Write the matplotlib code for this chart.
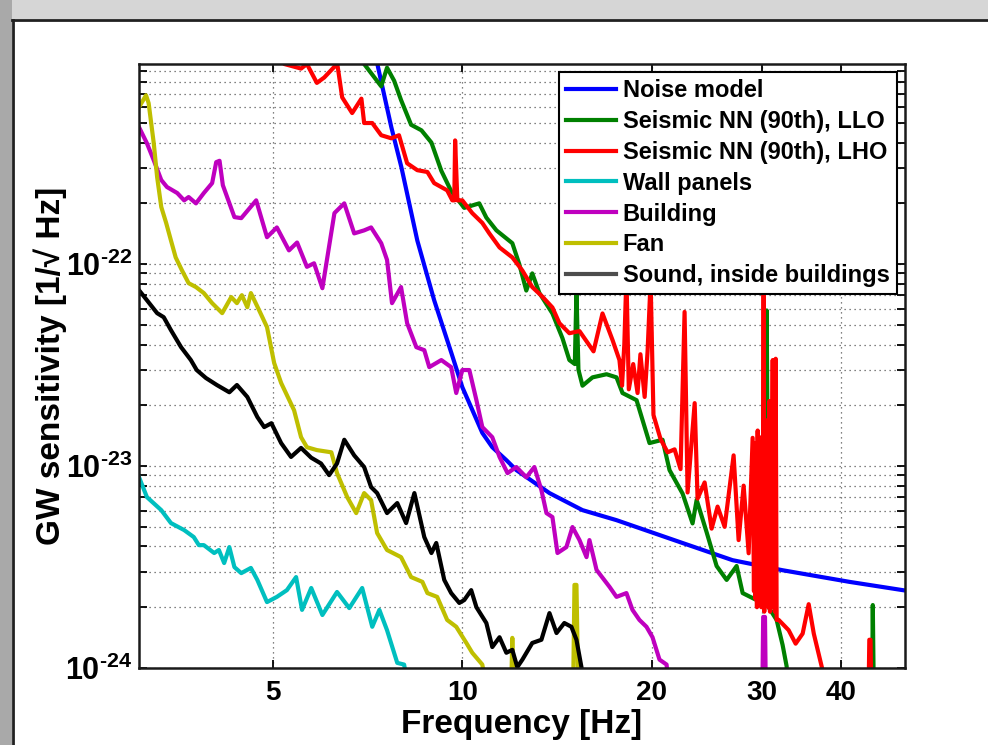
import numpy as np
import matplotlib
matplotlib.use("Agg")
import matplotlib.pyplot as plt
from matplotlib.patches import Rectangle
from matplotlib.lines import Line2D
from matplotlib.ticker import LogLocator, FixedLocator, FixedFormatter, NullLocator

plt.rcParams['font.family'] = ['Liberation Sans', 'DejaVu Sans']
plt.rcParams['font.weight'] = 'bold'
plt.rcParams['mathtext.fontset'] = 'custom'
plt.rcParams['mathtext.rm'] = 'Liberation Sans:bold'
plt.rcParams['mathtext.it'] = 'Liberation Sans:bold'
plt.rcParams['mathtext.bf'] = 'Liberation Sans:bold'
plt.rcParams['mathtext.default'] = 'rm'

# ---- data (frequency in Hz, sensitivity in 1/sqrt(Hz)) ----
f_noise = [7.1, 7.32, 7.71, 8.0, 8.48, 9.02, 9.61, 10.0, 10.26, 10.76, 11.16, 11.75,
           12.19, 13.76, 15.53, 17.58, 22.4, 26.9, 32.3, 41.3, 50.6]
h_noise = [1.5e-21, 9.9e-22, 4.77e-22, 3.02e-22, 1.31e-22, 6.63e-23, 3.62e-23, 2.46e-23,
           2.05e-23, 1.46e-23, 1.24e-23, 1.07e-23, 9.55e-24, 7.35e-24, 6.05e-24, 5.4e-24,
           4.16e-24, 3.42e-24, 3.05e-24, 2.67e-24, 2.42e-24]

f_llo = [6.9, 6.98, 7.43, 7.59, 7.79, 7.99, 8.29, 8.61, 8.93, 9.26, 9.60, 10.07, 10.64,
         10.92, 11.33, 12.01, 12.32, 12.64, 12.92, 13.26, 13.91, 14.43, 14.80, 15.1, 15.19,
         15.3, 15.53, 16.11, 16.96, 17.59, 17.98, 18.93, 19.35, 19.85, 20.82, 21.36, 22.41,
         23.24, 23.59, 24.47, 25.38, 26.33, 27.31, 27.92, 29.38, 30.3, 30.49, 30.7, 31.62,
         32.32, 32.8, 33.2, 44.8, 44.97, 45.2]
h_llo = [1.3e-21, 9.8e-22, 7.6e-22, 9.4e-22, 8.1e-22, 6.5e-22, 4.9e-22, 4.6e-22, 4.0e-22,
         2.9e-22, 2.3e-22, 1.9e-22, 2.0e-22, 1.7e-22, 1.47e-22, 1.27e-22, 1.0e-22, 7.4e-23,
         9.0e-23, 7.2e-23, 5.7e-23, 4.3e-23, 3.35e-23, 3.2e-23, 7.4e-23, 3.0e-23, 2.5e-23,
         2.75e-23, 2.85e-23, 2.75e-23, 2.3e-23, 2.12e-23, 1.69e-23, 1.3e-23, 1.35e-23,
         9.55e-24, 7.3e-24, 5.2e-24, 6.8e-24, 4.7e-24, 3.2e-24, 2.73e-24, 3.2e-24, 2.35e-24,
         2.17e-24, 2.05e-24, 5.9e-23, 2.0e-24, 1.73e-24, 1.3e-24, 1.02e-24, 5e-25, 5e-25,
         2.05e-24, 5e-25]

f_lho = [5.1, 5.21, 5.54, 5.66, 5.87, 6.03, 6.26, 6.32, 6.44, 6.68, 6.91, 6.98, 7.19, 7.43,
         7.71, 7.93, 8.17, 8.48, 8.80, 9.02, 9.46, 9.64, 9.71, 9.74, 9.82, 10.0, 10.37, 10.76,
         11.04, 11.46, 12.01, 12.46, 12.92, 13.41, 13.91, 14.27, 14.80, 15.36, 16.17, 16.71,
         17.34, 17.78, 17.95, 18.1, 18.24, 18.4, 18.7, 19.0, 19.2, 19.5, 19.71, 19.93, 20.14,
         20.67, 21.21, 21.76, 22.24, 22.57, 22.82, 23.42, 23.67, 24.29, 24.92, 25.47, 26.14,
         27.01, 27.51, 28.02, 28.54, 28.96,
         29.1, 29.18, 29.26, 29.34, 29.42, 29.5, 29.58, 29.66, 29.74, 29.82, 29.9, 29.98,
         30.06, 30.15, 30.22, 30.3, 30.38, 30.46, 30.54, 30.62, 30.7, 30.78, 30.86, 30.94,
         31.02, 31.1, 31.17, 31.25, 31.33, 31.42, 31.51,
         31.62, 31.86, 33.04, 33.9, 34.78, 35.56, 36.23, 37.43, 38.0, 44.2,
         44.4, 44.6, 44.8]
h_lho = [1.3e-21, 9.8e-22, 9.3e-22, 9.8e-22, 7.9e-22, 8.4e-22, 9.5e-22, 1.0e-21, 6.7e-22,
         5.6e-22, 6.6e-22, 5.0e-22, 5.0e-22, 4.35e-22, 4.2e-22, 4.35e-22, 3.16e-22, 2.92e-22,
         2.86e-22, 2.52e-22, 2.32e-22, 2.07e-22, 2.07e-22, 4.1e-22, 2.07e-22, 2.07e-22,
         1.79e-22, 1.6e-22, 1.42e-22, 1.21e-22, 1.08e-22, 9.3e-23, 7.7e-23, 6.9e-23, 6.1e-23,
         5.1e-23, 4.55e-23, 4.66e-23, 3.7e-23, 5.7e-23, 4.2e-23, 3.35e-23, 2.5e-23, 4.0e-23,
         8.8e-23, 2.4e-23, 3.2e-23, 2.3e-23, 3.58e-23, 2.2e-23, 3.7e-23, 8.3e-23, 1.79e-23,
         1.36e-23, 1.17e-23, 1.21e-23, 9.66e-24, 5.8e-23, 7.4e-24, 2.05e-23, 6.9e-24, 8.3e-24,
         4.9e-24, 6.3e-24, 5.0e-24, 1.13e-23, 4.3e-24, 8.0e-24, 3.7e-24, 1.38e-23,
         2.4e-24, 1.3e-23, 2.2e-24, 1.0e-23, 2.0e-24, 1.5e-23, 2.4e-24, 9.0e-24, 2.1e-24,
         1.2e-23, 2.0e-24, 1.4e-23, 2.2e-24, 8.0e-23, 1.9e-24, 1.7e-23, 2.1e-24, 1.35e-23,
         2.2e-24, 1.6e-23, 2.0e-24, 2.1e-23, 1.9e-24, 1.35e-23, 2.3e-24, 1.1e-23, 3.35e-23,
         2.0e-24, 1.2e-23, 1.9e-24, 3.4e-23,
         1.73e-24, 1.73e-24, 1.54e-24, 1.32e-24, 1.48e-24, 2.07e-24, 1.48e-24, 9.7e-25, 5e-25,
         5e-25, 1.38e-24, 1.38e-24, 5e-25]

f_wall = [3.06, 3.15, 3.32, 3.44, 3.61, 3.74, 3.81, 3.88, 4.03, 4.10, 4.18, 4.26, 4.34, 4.45,
          4.61, 4.72, 4.89, 5.07, 5.26, 5.44, 5.56, 5.75, 5.99, 6.32, 6.61, 6.93, 7.19, 7.38,
          7.59, 7.88, 8.08, 8.2]
h_wall = [8.82e-24, 7.02e-24, 6.05e-24, 5.22e-24, 4.82e-24, 4.45e-24, 4.06e-24, 4.06e-24,
          3.71e-24, 3.84e-24, 3.31e-24, 3.97e-24, 3.16e-24, 2.95e-24, 3.13e-24, 2.73e-24,
          2.12e-24, 2.25e-24, 2.43e-24, 2.82e-24, 1.94e-24, 2.49e-24, 1.83e-24, 2.38e-24,
          1.98e-24, 2.49e-24, 1.60e-24, 1.94e-24, 1.54e-24, 1.06e-24, 1.04e-24, 8e-25]

f_build = [3.06, 3.15, 3.23, 3.32, 3.39, 3.52, 3.61, 3.67, 3.77, 3.88, 4.0, 4.06, 4.11, 4.16,
           4.34, 4.45, 4.70, 4.89, 5.07, 5.30, 5.46, 5.66, 5.81, 5.99, 6.26, 6.49, 6.73, 6.98,
           7.16, 7.43, 7.59, 7.73, 7.99, 8.17, 8.45, 8.70, 8.86, 9.26, 9.60, 9.78, 10.0, 10.26,
           10.53, 10.76, 11.16, 11.46, 11.80, 12.19, 12.64, 13.02, 13.36, 13.61, 13.91, 14.17,
           14.64, 14.97, 15.36, 15.76, 15.93, 16.35, 17.15, 17.59, 18.24, 18.65, 19.13, 19.63,
           20.07, 20.59, 21.13, 21.4, 30.0, 30.1, 30.3, 30.4]
h_build = [4.77e-22, 3.97e-22, 3.27e-22, 2.61e-22, 2.41e-22, 2.25e-22, 2.07e-22, 2.15e-22,
           2.0e-22, 2.25e-22, 2.52e-22, 3.2e-22, 3.25e-22, 2.46e-22, 1.71e-22, 1.69e-22,
           2.07e-22, 1.36e-22, 1.52e-22, 1.17e-22, 1.28e-22, 9.7e-23, 1.01e-22, 7.6e-23,
           1.79e-22, 2.0e-22, 1.42e-22, 1.47e-22, 1.52e-22, 1.27e-22, 1.05e-22, 6.41e-23,
           7.7e-23, 5.1e-23, 3.88e-23, 3.75e-23, 3.09e-23, 3.35e-23, 3.09e-23, 2.30e-23,
           2.99e-23, 2.99e-23, 2.12e-23, 1.56e-23, 1.39e-23, 1.11e-23, 9.23e-24, 9.89e-24,
           8.8e-24, 9.89e-24, 7.6e-24, 5.85e-24, 5.59e-24, 3.71e-24, 3.97e-24, 4.99e-24,
           4.30e-24, 3.54e-24, 4.30e-24, 3.06e-24, 2.52e-24, 2.25e-24, 2.35e-24, 1.94e-24,
           1.73e-24, 1.6e-24, 1.42e-24, 1.10e-24, 1.04e-24, 7e-25, 7e-25, 1.79e-24, 1.79e-24,
           7e-25]

f_fan = [3.06, 3.14, 3.17, 3.23, 3.27, 3.32, 3.38, 3.44, 3.50, 3.58, 3.67, 3.77, 3.88, 4.0,
         4.15, 4.29, 4.38, 4.46, 4.55, 4.61, 4.75, 4.89, 5.02, 5.15, 5.40, 5.54, 5.66, 5.87,
         6.19, 6.32, 6.56, 6.78, 6.98, 7.16, 7.32, 7.59, 7.99, 8.29, 8.64, 8.80, 9.12, 9.46,
         9.78, 10.15, 10.37, 10.76, 11.0, 11.95, 12.01, 12.07, 15.0, 15.08, 15.19, 15.3]
h_fan = [5.99e-22, 6.86e-22, 6.27e-22, 3.97e-22, 2.70e-22, 1.92e-22, 1.60e-22, 1.31e-22,
         1.08e-22, 9.34e-23, 8.05e-23, 7.7e-23, 7.19e-23, 6.41e-23, 5.72e-23, 6.87e-23,
         6.41e-23, 7.02e-23, 6.12e-23, 7.19e-23, 5.92e-23, 4.88e-23, 3.24e-23, 2.58e-23,
         1.89e-23, 1.39e-23, 1.24e-23, 1.20e-23, 1.17e-23, 9.23e-24, 7.02e-24, 5.85e-24,
         7.35e-24, 6.78e-24, 4.66e-24, 3.84e-24, 3.54e-24, 2.82e-24, 2.67e-24, 2.35e-24,
         2.25e-24, 1.73e-24, 1.60e-24, 1.33e-24, 1.19e-24, 1.04e-24, 7e-25, 7e-25, 1.41e-24,
         7e-25, 7e-25, 2.58e-24, 2.58e-24, 7e-25]

f_sound = [3.06, 3.15, 3.27, 3.35, 3.44, 3.57, 3.70, 3.78, 3.91, 4.07, 4.26, 4.38, 4.55, 4.72,
           4.84, 4.97, 5.15, 5.34, 5.54, 5.75, 5.96, 6.14, 6.32, 6.49, 6.73, 6.98, 7.16, 7.32,
           7.59, 7.88, 8.14, 8.39, 8.70, 8.93, 9.09, 9.36, 9.60, 9.89, 10.07, 10.33, 10.53,
           10.92, 11.16, 11.46, 11.75, 12.01, 12.23, 12.46, 12.92, 13.36, 13.76, 14.12, 14.53,
           14.91, 15.19, 15.47, 15.7]
h_sound = [7.43e-23, 6.63e-23, 5.72e-23, 5.46e-23, 4.71e-23, 3.88e-23, 3.35e-23, 2.99e-23,
           2.73e-23, 2.52e-23, 2.32e-23, 2.52e-23, 2.20e-23, 1.75e-23, 1.56e-23, 1.63e-23,
           1.30e-23, 1.11e-23, 1.23e-23, 1.10e-23, 1.03e-23, 9.02e-24, 1.03e-23, 1.35e-23,
           1.13e-23, 9.89e-24, 7.87e-24, 7.35e-24, 5.85e-24, 6.56e-24, 5.22e-24, 7.35e-24,
           4.45e-24, 3.71e-24, 4.16e-24, 2.73e-24, 2.35e-24, 2.10e-24, 2.17e-24, 2.43e-24,
           2.0e-24, 1.67e-24, 1.27e-24, 1.42e-24, 1.19e-24, 1.23e-24, 1.01e-24, 1.10e-24,
           1.33e-24, 1.38e-24, 1.87e-24, 1.49e-24, 1.67e-24, 1.60e-24, 1.38e-24, 1.01e-24, 7e-25]

labels = ['Noise model', 'Seismic NN (90th), LLO', 'Seismic NN (90th), LHO',
          'Wall panels', 'Building', 'Fan', 'Sound, inside buildings']
colors = ['#0000ff', '#008000', '#ff0000', '#00bfbf', '#bf00bf', '#bfbf00', '#000000']
xticks = [5, 10, 20, 30, 40]
xtick_labels = ['5', '10', '20', '30', '40']
yticks = [1e-24, 1e-23, 1e-22]
ytick_labels = [r'$\mathdefault{10^{\text{-24}}}$', r'$\mathdefault{10^{\text{-23}}}$',
                r'$\mathdefault{10^{\text{-22}}}$']

# ---- figure ----
fig = plt.figure(figsize=(9.88, 7.45), dpi=100)
fig.patch.set_facecolor('white')
fig.add_artist(Rectangle((0, 1 - 19 / 745), 1, 19 / 745, transform=fig.transFigure,
                         facecolor='#d6d6d6', edgecolor='none', zorder=0))
fig.add_artist(Rectangle((0, 0), 12 / 988, 1, transform=fig.transFigure,
                         facecolor='#a9a9a9', edgecolor='none', zorder=0))
fig.add_artist(Line2D([12 / 988, 1], [1 - 20 / 745, 1 - 20 / 745], transform=fig.transFigure,
                      color='#202020', lw=2))
fig.add_artist(Line2D([13 / 988, 13 / 988], [0, 1 - 20 / 745], transform=fig.transFigure,
                      color='#202020', lw=2))

ax = fig.add_axes([139 / 988, 77 / 745, 766 / 988, 604 / 745])

series = [(f_noise, h_noise), (f_llo, h_llo), (f_lho, h_lho), (f_wall, h_wall),
          (f_build, h_build), (f_fan, h_fan), (f_sound, h_sound)]
handles = []
for (f, h), c, lab in zip(series, colors, labels):
    ln, = ax.loglog(f, h, color=c, lw=3.0, label=lab)
    handles.append(ln)

ax.set_xlim(3.06, 50.6)
ax.set_ylim(1e-24, 9.8e-22)

ax.xaxis.set_major_locator(FixedLocator(xticks))
ax.xaxis.set_major_formatter(FixedFormatter(xtick_labels))
ax.xaxis.set_minor_locator(NullLocator())
ax.yaxis.set_major_locator(FixedLocator(yticks))
ax.yaxis.set_major_formatter(FixedFormatter(ytick_labels))
ax.yaxis.set_minor_locator(LogLocator(base=10, subs=np.arange(2, 10), numticks=20))

ax.tick_params(which='both', direction='in', top=True, right=True, width=1.3, color='black')
ax.tick_params(which='major', length=6)
ax.tick_params(which='minor', length=6)
ax.tick_params(axis='x', labelsize=20, pad=9)
ax.tick_params(axis='y', labelsize=22, pad=5)
for t in ax.get_xticklabels() + ax.get_yticklabels():
    t.set_fontweight('bold')

ax.grid(True, which='both', axis='y', linestyle=(0, (1, 3)), color='0.35', lw=0.9)
ax.grid(True, which='major', axis='x', linestyle=(0, (1, 3)), color='0.35', lw=0.9)

for s in ax.spines.values():
    s.set_linewidth(1.8)
    s.set_color('#1a1a1a')

ax.set_xlabel('Frequency [Hz]', fontsize=24, fontweight='bold', labelpad=2)
ax.set_ylabel('GW sensitivity [1/\u221a Hz]', fontsize=24, fontweight='bold')
ax.yaxis.set_label_coords(-0.094, 0.5)

leg = ax.legend(handles=handles, loc='upper right', frameon=True, fancybox=False,
                edgecolor='black', framealpha=1, borderaxespad=0.35, handlelength=2.1,
                handletextpad=0.3, labelspacing=0.33, borderpad=0.3,
                prop={'weight': 'bold', 'size': 17})
leg.get_frame().set_linewidth(1.5)
leg.legend_handles[-1].set_color('0.3')

fig.savefig('out.png', dpi=100, facecolor=fig.get_facecolor())
